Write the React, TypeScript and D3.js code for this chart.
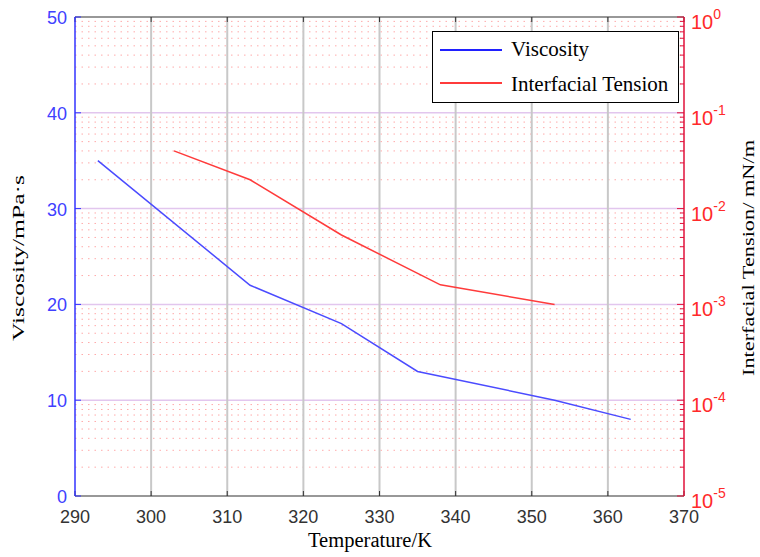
import React from "react";
import * as d3 from "d3";

const temperatureTicks = [290, 300, 310, 320, 330, 340, 350, 360, 370];
const viscosityTicks = [0, 10, 20, 30, 40, 50];
const tensionExponents = [-5, -4, -3, -2, -1, 0];

const viscosityT = [293, 313, 325, 335, 353, 363];
const viscosityV = [35, 22, 18, 13, 10, 8];

const tensionT = [303, 313, 325, 338, 353];
const tensionV = [0.04, 0.02, 0.0053, 0.0016, 0.001];

const W = 760;
const H = 557;
const M = { left: 75, right: 684, top: 17, bottom: 496 };

const SANS = "'Liberation Sans', Arial, sans-serif";
const SERIF = "'Liberation Serif', 'Times New Roman', serif";

export default function App() {
  const x = d3.scaleLinear().domain([290, 370]).range([M.left, M.right]);
  const yL = d3.scaleLinear().domain([0, 50]).range([M.bottom, M.top]);
  const yR = d3.scaleLog().domain([1e-5, 1]).range([M.bottom, M.top]);

  const minor: number[] = [];
  for (let e = -5; e < 0; e++) {
    for (let k = 2; k <= 9; k++) minor.push(k * Math.pow(10, e));
  }

  const lineV = d3
    .line<number>()
    .x((_, i) => x(viscosityT[i]))
    .y((d) => yL(d));
  const lineT = d3
    .line<number>()
    .x((_, i) => x(tensionT[i]))
    .y((d) => yR(d));

  const blue = "#4b4bff";
  const red = "#ff3b3b";

  return (
    <svg
      width={W}
      height={H}
      style={{ position: "absolute", left: 0, top: 0, background: "#fff" }}
    >
      {/* minor dotted grid */}
      {minor.map((v, i) => (
        <line
          key={"m" + i}
          x1={M.left}
          x2={M.right}
          y1={yR(v)}
          y2={yR(v)}
          stroke="#ffaaaa"
          strokeWidth={1}
          strokeDasharray="1.5,5"
        />
      ))}
      {/* major horizontal grid */}
      {viscosityTicks.slice(1, -1).map((v) => (
        <line
          key={"h" + v}
          x1={M.left}
          x2={M.right}
          y1={yL(v)}
          y2={yL(v)}
          stroke="#e2c6ee"
          strokeWidth={1.5}
        />
      ))}
      {/* vertical grid */}
      {temperatureTicks.slice(1, -1).map((t) => (
        <line
          key={"v" + t}
          x1={x(t)}
          x2={x(t)}
          y1={M.top}
          y2={M.bottom}
          stroke="#c8c8c8"
          strokeWidth={2}
        />
      ))}
      {/* x ticks top and bottom */}
      {temperatureTicks.map((t) => (
        <g key={"xt" + t}>
          <line x1={x(t)} x2={x(t)} y1={M.bottom} y2={M.bottom - 5} stroke="#333" />
          <line x1={x(t)} x2={x(t)} y1={M.top} y2={M.top + 5} stroke="#333" />
          <text
            x={x(t)}
            y={M.bottom + 27}
            textAnchor="middle"
            fontFamily={SANS}
            fontSize={18}
            fill="#333"
          >
            {t}
          </text>
        </g>
      ))}
      {/* frame */}
      <line x1={M.left} x2={M.right} y1={M.top} y2={M.top} stroke="#333" strokeWidth={1.2} />
      <line x1={M.left} x2={M.right} y1={M.bottom} y2={M.bottom} stroke="#333" strokeWidth={1.2} />
      {/* left axis */}
      <line x1={M.left} x2={M.left} y1={M.top} y2={M.bottom} stroke="#3333ff" strokeWidth={1.5} />
      {viscosityTicks.map((v) => (
        <g key={"yl" + v}>
          <line x1={M.left} x2={M.left + 6} y1={yL(v)} y2={yL(v)} stroke="#3333ff" />
          <text
            x={M.left - 8}
            y={yL(v) + 7}
            textAnchor="end"
            fontFamily={SANS}
            fontSize={18}
            fill="#4040ff"
          >
            {v}
          </text>
        </g>
      ))}
      {/* right axis */}
      <line x1={M.right} x2={M.right} y1={M.top} y2={M.bottom} stroke="#e0103a" strokeWidth={1.5} />
      {minor.map((v, i) => (
        <line key={"rm" + i} x1={M.right} x2={M.right - 4} y1={yR(v)} y2={yR(v)} stroke="#e0103a" />
      ))}
      {tensionExponents.map((e) => (
        <g key={"yr" + e}>
          <line x1={M.right} x2={M.right - 7} y1={yR(Math.pow(10, e))} y2={yR(Math.pow(10, e))} stroke="#e0103a" />
          <text
            x={M.right + 7}
            y={yR(Math.pow(10, e)) + 12}
            fontFamily={SANS}
            fontSize={20}
            fill="#ff2a2a"
          >
            10
            <tspan dy={-10} fontSize={14}>
              {e}
            </tspan>
          </text>
        </g>
      ))}
      {/* data */}
      <path d={lineV(viscosityV) || ""} fill="none" stroke={blue} strokeWidth={1.5} />
      <path d={lineT(tensionV) || ""} fill="none" stroke={red} strokeWidth={1.5} />
      {/* legend */}
      <rect x={432.5} y={31.5} width={246} height={71} fill="#fff" stroke="#000" strokeWidth={1} />
      <line x1={440} x2={502} y1={50} y2={50} stroke="#2020ff" strokeWidth={2} />
      <line x1={440} x2={502} y1={83} y2={83} stroke={red} strokeWidth={2} />
      <text x={511} y={56} fontFamily={SERIF} fontSize={21} fill="#000">
        Viscosity
      </text>
      <text x={511} y={90.5} fontFamily={SERIF} fontSize={21} fill="#000">
        Interfacial Tension
      </text>
      {/* axis titles */}
      <text
        x={370}
        y={547}
        textAnchor="middle"
        fontFamily={SERIF}
        fontSize={20}
        fill="#000"
        textLength={124}
        lengthAdjust="spacingAndGlyphs"
      >
        Temperature/K
      </text>
      <text
        transform={`translate(24, 258) rotate(-90)`}
        textAnchor="middle"
        fontFamily={SERIF}
        fontSize={17.5}
        fill="#000"
        textLength={166}
        lengthAdjust="spacingAndGlyphs"
      >
        Viscosity/mPa·s
      </text>
      <text
        transform={`translate(754, 258) rotate(-90)`}
        textAnchor="middle"
        fontFamily={SERIF}
        fontSize={17.5}
        fill="#000"
        textLength={236}
        lengthAdjust="spacingAndGlyphs"
      >
        Interfacial Tension/ mN/m
      </text>
    </svg>
  );
}
